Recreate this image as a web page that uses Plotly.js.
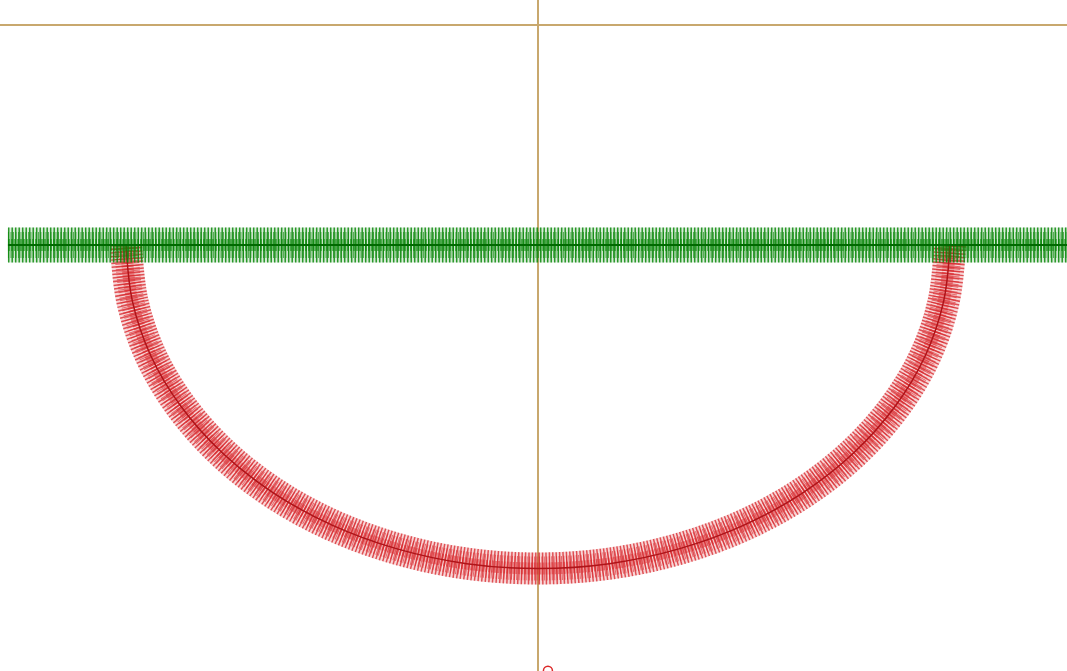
<!DOCTYPE html>
<html>
<head>
<meta charset="utf-8">
<script src="https://cdn.plot.ly/plotly-3.0.1.min.js"></script>
<style>html,body{margin:0;padding:0;background:#fff;}#chart{width:1067px;height:671px;}</style>
</head>
<body>
<div id="chart"></div>
<script>
// Horizontal (green) line
const lineX = [-1.93, 2.05];
const lineY = [-1, -1];
// Semicircular (red) arc, sampled every 10 degrees
const arcX = [1.5, 1.477, 1.41, 1.299, 1.149, 0.964, 0.75, 0.513, 0.26, 0, -0.26, -0.513, -0.75, -0.964, -1.149, -1.299, -1.41, -1.477, -1.5];
const arcY = [-1, -1.255, -1.503, -1.735, -1.945, -2.126, -2.273, -2.381, -2.448, -2.47, -2.448, -2.381, -2.273, -2.126, -1.945, -1.735, -1.503, -1.255, -1];
// small red point at the bottom edge
const dotX = [0.036];
const dotY = [-2.935];

const green = 'rgb(10,135,10)';
const red = 'rgb(215,35,40)';

function band(x, y, color, w, dash, op, shape) {
  return {x: x, y: y, type: 'scatter', mode: 'lines', hoverinfo: 'skip',
    opacity: op, line: {color: color, width: w, dash: dash, shape: shape}};
}

const traces = [
  band(arcX, arcY, red, 32, 'solid', 0.18, 'spline'),
  band(arcX, arcY, red, 32, '1.5px,2px', 0.75, 'spline'),
  band(arcX, arcY, red, 24, '1px,1.5px', 0.6, 'spline'),
  band(arcX, arcY, red, 12, '2px,1px', 0.5, 'spline'),
  band(arcX, arcY, 'rgb(175,20,25)', 1.5, 'solid', 1, 'spline'),
  band(lineX, lineY, green, 35, 'solid', 0.15, 'linear'),
  band(lineX, lineY, green, 35, '1.5px,2px', 0.85, 'linear'),
  band(lineX, lineY, green, 26, '1px,1.5px', 0.65, 'linear'),
  band(lineX, lineY, green, 12, '2px,1px', 0.55, 'linear'),
  band(lineX, lineY, 'rgb(0,105,0)', 2, 'solid', 1, 'linear'),
  {x: dotX, y: dotY, type: 'scatter', mode: 'markers', hoverinfo: 'skip',
   marker: {symbol: 'circle-open', size: 9, color: 'rgb(220,40,40)', line: {width: 1.5}}}
];

const layout = {
  width: 1067, height: 671,
  margin: {l: 0, r: 0, t: 0, b: 0},
  paper_bgcolor: '#fff', plot_bgcolor: '#fff',
  showlegend: false,
  xaxis: {range: [-1.959, 1.926], showgrid: false, showticklabels: false, ticks: '',
          zeroline: true, zerolinecolor: 'rgb(200,168,110)', zerolinewidth: 2, showline: false, fixedrange: true},
  yaxis: {range: [-2.936, 0.114], showgrid: false, showticklabels: false, ticks: '',
          zeroline: true, zerolinecolor: 'rgb(200,168,110)', zerolinewidth: 2, showline: false, fixedrange: true}
};

Plotly.newPlot('chart', traces, layout, {staticPlot: true, displayModeBar: false});
</script>
</body>
</html>
